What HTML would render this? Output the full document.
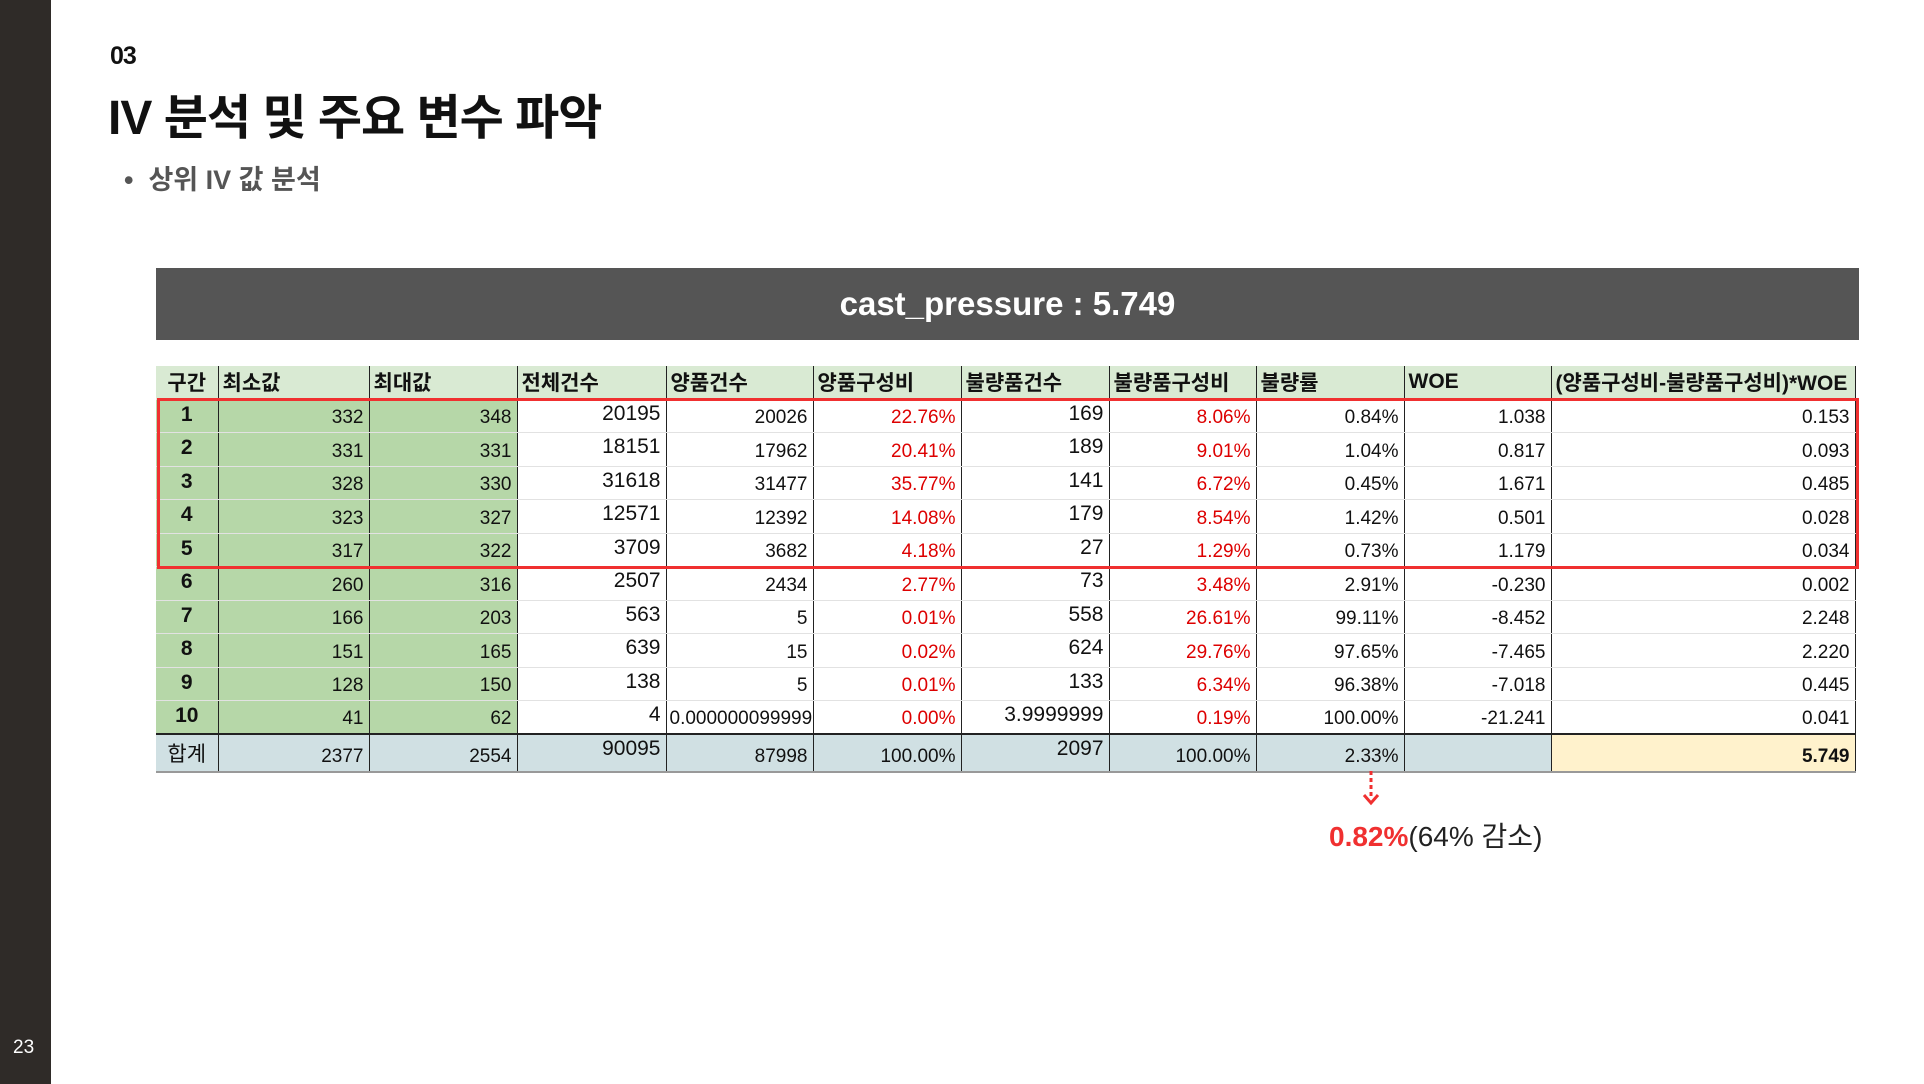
<!DOCTYPE html>
<html><head><meta charset="utf-8">
<style>
*{margin:0;padding:0;box-sizing:border-box}
body{width:1924px;height:1084px;background:#fff;position:relative;overflow:hidden;font-family:"Liberation Sans","Noto Sans CJK KR",sans-serif;color:#111}
.abs{position:absolute}
#sidebar{left:0;top:0;width:51px;height:1084px;background:#2f2b28}
#pnum{left:13px;top:1037px;color:#fff;font-size:19px}
#sec{left:110px;top:42px;font-size:25px;font-weight:bold;letter-spacing:-1px}
#title{left:108px;top:78px;font-size:48px;font-weight:bold;letter-spacing:-1px}
#bullet{left:124px;top:158px;font-size:27px;font-weight:bold;color:#555}
#banner{left:156px;top:268px;width:1703px;height:72px;background:#555;color:#fff;font-size:33px;font-weight:bold;text-align:center;line-height:72px}
table{position:absolute;left:156px;top:366px;width:1699px;border-collapse:collapse;table-layout:fixed;font-family:"Liberation Sans","Noto Sans CJK KR",sans-serif}
td,th{height:33.5px;border-right:1.5px solid #222;border-bottom:1.5px solid #e2e2e2;font-size:19px;text-align:right;padding:0 5px;vertical-align:bottom;padding-bottom:3px;white-space:nowrap;overflow:hidden}
th{background:#d9ead3;text-align:left;font-weight:bold;vertical-align:middle;padding:0 4px;font-size:21px;height:33px}
th:first-child{text-align:center}
td.k{background:#b6d7a8;text-align:center;font-weight:bold;vertical-align:top;padding-top:3px;font-size:21px}
td.g{background:#b6d7a8}
td.big{font-size:21px;vertical-align:top;padding-top:2px}
td.r{color:#d00}
tr.tot td{background:#d0e0e3;border-top:2px solid #222;border-bottom:2px solid #999;height:32px}
tr.tot td.k{font-weight:normal}
tr.tot td.iv{background:#fff2cc;font-weight:bold}
#redbox{left:157px;top:398px;width:1702px;height:171px;border:3.5px solid #f03030}
#arrow{left:1361px;top:771px}
#note{left:1329px;top:815px;font-size:28px;color:#222}
#note b{color:#f03030}
</style></head><body>
<div id="sidebar" class="abs"></div>
<div id="pnum" class="abs">23</div>
<div id="sec" class="abs">03</div>
<div id="title" class="abs">IV 분석 및 주요 변수 파악</div>
<div id="bullet" class="abs">•&nbsp; 상위 IV 값 분석</div>
<div id="banner" class="abs">cast_pressure : 5.749</div>
<table id="tbl">
<colgroup>
<col style="width:62px"><col style="width:151px"><col style="width:148px"><col style="width:149px"><col style="width:147px"><col style="width:148px"><col style="width:148px"><col style="width:147px"><col style="width:148px"><col style="width:147px"><col style="width:304px">
</colgroup>
<thead><tr id="hdr"></tr></thead>
<tbody id="body"></tbody>
</table>
<div id="redbox" class="abs"></div>
<svg id="arrow" class="abs" width="20" height="36">
<line x1="10" y1="0" x2="10" y2="28" stroke="#f03030" stroke-width="3" stroke-dasharray="4,3"/>
<polyline points="3,24 10,32 17,24" fill="none" stroke="#f03030" stroke-width="3"/>
</svg>
<div id="note" class="abs"><b>0.82%</b>(64% 감소)</div>
<script>
const headers=["구간","최소값","최대값","전체건수","양품건수","양품구성비","불량품건수","불량품구성비","불량률","WOE","(양품구성비-불량품구성비)*WOE"];
const bins=["1","2","3","4","5","6","7","8","9","10"];
const minVals=["332","331","328","323","317","260","166","151","128","41"];
const maxVals=["348","331","330","327","322","316","203","165","150","62"];
const totalCnt=["20195","18151","31618","12571","3709","2507","563","639","138","4"];
const goodCnt=["20026","17962","31477","12392","3682","2434","5","15","5","0.000000099999"];
const goodPct=["22.76%","20.41%","35.77%","14.08%","4.18%","2.77%","0.01%","0.02%","0.01%","0.00%"];
const badCnt=["169","189","141","179","27","73","558","624","133","3.9999999"];
const badPct=["8.06%","9.01%","6.72%","8.54%","1.29%","3.48%","26.61%","29.76%","6.34%","0.19%"];
const badRate=["0.84%","1.04%","0.45%","1.42%","0.73%","2.91%","99.11%","97.65%","96.38%","100.00%"];
const woe=["1.038","0.817","1.671","0.501","1.179","-0.230","-8.452","-7.465","-7.018","-21.241"];
const ivVals=["0.153","0.093","0.485","0.028","0.034","0.002","2.248","2.220","0.445","0.041"];
const totals=["합계","2377","2554","90095","87998","100.00%","2097","100.00%","2.33%","","5.749"];

const hdr=document.getElementById('hdr');
headers.forEach(h=>{const th=document.createElement('th');th.textContent=h;


hdr.appendChild(th);});
const body=document.getElementById('body');
const cls=["k","g","g","big","","r","big","r","","",""];
bins.forEach((b,i)=>{
  const tr=document.createElement('tr');
  
  
  const vals=[b,minVals[i],maxVals[i],totalCnt[i],goodCnt[i],goodPct[i],badCnt[i],badPct[i],badRate[i],woe[i],ivVals[i]];
  vals.forEach((v,j)=>{const td=document.createElement('td');td.textContent=v;if(cls[j])td.className=cls[j];
    if(j===4&&i===9){td.style.textAlign='left';td.style.padding='0 0 3px 3px';}
    
    
    tr.appendChild(td);});
  body.appendChild(tr);
});
const tt=document.createElement('tr');tt.className='tot';


totals.forEach((v,j)=>{const td=document.createElement('td');td.textContent=v;
  if(j===0)td.className='k';else if(j===3||j===6)td.className='big';else if(j===10)td.className='iv';
  
  
  tt.appendChild(td);});
body.appendChild(tt);
</script>
</body></html>
